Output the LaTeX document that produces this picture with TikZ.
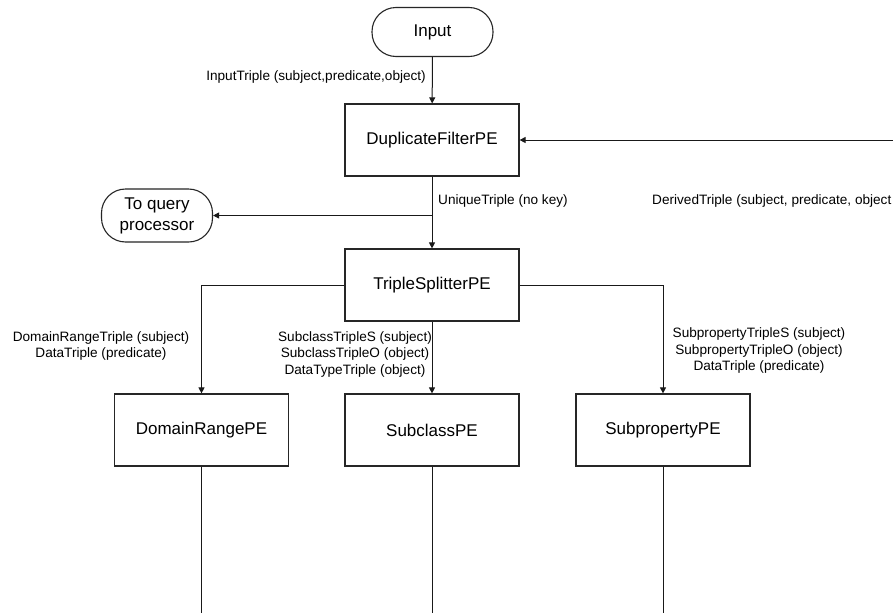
\documentclass[tikz,border=0pt]{standalone}
\usepackage{fontspec}
\setmainfont{Liberation Sans}
\usetikzlibrary{arrows.meta}
\begin{document}
\begin{tikzpicture}[x=1pt,y=-1pt,
  pebox/.style={draw=black!85,line width=1.2pt,minimum width=174pt,minimum height=72pt,inner sep=0pt,font=\fontsize{17}{19}\selectfont},
  term/.style={draw=black!85,line width=1.1pt,rounded corners=24pt,inner sep=0pt,align=center,font=\fontsize{17}{21}\selectfont},
  lbl/.style={inner sep=0pt,align=center,font=\fontsize{13.6}{16.5}\selectfont},
  conn/.style={draw=black!90,line width=1pt},
  arr/.style={conn,-{Triangle[length=6pt,width=6pt]}}]
\useasboundingbox (0,0) rectangle (893,613);
\fill[white] (0,0) rectangle (893,613);
% nodes
\node[term,minimum width=121pt,minimum height=49pt] (input) at (432.5,32) {Input};
\node[pebox] (dup) at (432,140) {DuplicateFilterPE};
\node[term,minimum width=111pt,minimum height=53pt] (query) at (157,215.5) {To query\\processor};
\node[pebox] (split) at (432,285) {TripleSplitterPE};
\node[pebox] (dr) at (201.5,430) {DomainRangePE};
\node[pebox] (sc) at (432,430) {SubclassPE};
\node[pebox] (sp) at (663,430) {SubpropertyPE};
% free ends
\coordinate (rin) at (893,140);
\coordinate (drb) at (201.5,613);
\coordinate (scb) at (432,613);
\coordinate (spb) at (663,613);
% labels
\node[lbl,anchor=east] (linput) at (426,77) {InputTriple (subject,predicate,object)};
\node[lbl,anchor=west] (luniq) at (438,201) {UniqueTriple (no key)};
\node[lbl,anchor=west] (lder) at (652,201) {DerivedTriple (subject, predicate, object};
\node[lbl] (ldr) at (101,346) {DomainRangeTriple (subject)\\DataTriple (predicate)};
\node[lbl] (lsc) at (355,354) {SubclassTripleS (subject)\\SubclassTripleO (object)\\DataTypeTriple (object)};
\node[lbl] (lsp) at (759,350.5) {SubpropertyTripleS (subject)\\SubpropertyTripleO (object)\\DataTriple (predicate)};
% connectors
\draw[arr] (input) -- (dup);
\draw[arr] (dup) -- (split);
\draw[arr] (dup.south |- query.east) -- (query.east);
\draw[arr] (rin) -- (dup.east);
\draw[arr] (split.west) -| (dr.north);
\draw[arr] (split) -- (sc);
\draw[arr] (split.east) -| (sp.north);
\draw[conn] (dr.south) -- (drb);
\draw[conn] (sc.south) -- (scb);
\draw[conn] (sp.south) -- (spb);
\end{tikzpicture}
\end{document}
